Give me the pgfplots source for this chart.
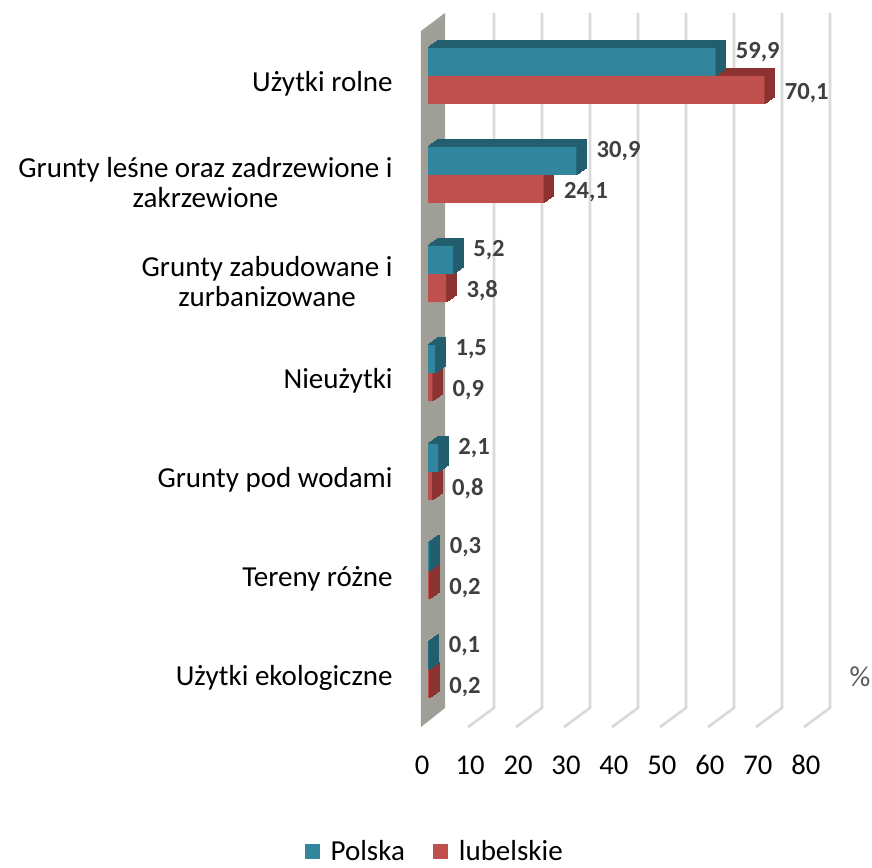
\documentclass[border=0pt]{standalone}
\usepackage{fontspec}
\setmainfont{Carlito}
\usepackage{pgfplots}
\pgfplotsset{compat=1.18}
\definecolor{pl}{RGB}{49,133,156}
\definecolor{pld}{RGB}{35,94,110}
\definecolor{lu}{RGB}{192,80,77}
\definecolor{lud}{RGB}{140,51,49}
\definecolor{wallc}{RGB}{160,159,151}
\definecolor{gridc}{RGB}{217,217,217}
\definecolor{lblc}{RGB}{64,64,64}
\pgfplotstableread{
y pl lu
0 59.9 70.1
1 30.9 24.1
2 5.2 3.8
3 1.5 0.9
4 2.1 0.8
5 0.3 0.2
6 0.1 0.2
}\landtab
\begin{document}
\begin{tikzpicture}
\begin{axis}[
 set layers,
 at={(0,0)}, anchor=south west,
 width=192pt, height=347.5pt, scale only axis,
 xmin=0, xmax=80, ymin=-0.505, ymax=6.515, y dir=reverse,
 axis line style={draw=none},
 major tick length=0pt,
 xtick={0,10,...,80},
 ytick={0,...,6},
 yticklabels={Użytki rolne,{Grunty leśne oraz zadrzewione i\\zakrzewione},{Grunty zabudowane i\\zurbanizowane},Nieużytki,Grunty pod wodami,Tereny różne,Użytki ekologiczne},
 yticklabel style={font=\fontsize{14.5}{15}\selectfont, align=center, inner sep=0pt, xshift=-17.5pt, yshift=-4pt},
 xticklabel style={font=\fontsize{14.3}{16}\selectfont, anchor=center, yshift=-22pt, xshift=-3pt},
 /pgf/number format/assume math mode=true,
 clip=false,
 xbar, bar width=14pt,
 nodes near coords={\pgfmathprintnumber[fixed,fixed zerofill,precision=1,use comma]{\pgfplotspointmeta}},
 nodes near coords align={horizontal},
 legend style={at={(axis description cs:0.02,-0.188)}, anchor=center, draw=none, fill=none,
   legend columns=2, font=\fontsize{14.5}{16}\selectfont,
   /tikz/every even column/.append style={column sep=12pt}},
 legend image code/.code={\fill[#1,draw=none] (0pt,-3.75pt) rectangle (7.5pt,3.75pt);},
]
\begin{pgfonlayer}{axis background}
\fill[wallc] ([shift={(-3.5pt,-3pt)}]axis cs:0,6.515) -- ([shift={(8.5pt,6.5pt)}]axis cs:0,6.515) -- ([shift={(8.5pt,6.5pt)}]axis cs:0,-0.505) -- ([shift={(-3.5pt,-2.5pt)}]axis cs:0,-0.505) -- cycle;
\pgfplotsinvokeforeach{10,20,...,80}{
\draw[gridc, line width=1.3pt] ([shift={(9pt,6.5pt)}]axis cs:#1,-0.505) -- ([shift={(9pt,6.5pt)}]axis cs:#1,6.515) -- ([shift={(-4pt,-3pt)}]axis cs:#1,6.515);
}
\end{pgfonlayer}
% depth faces (extrusion)
\pgfplotsinvokeforeach{0.5,1.0,1.5,2.0,2.5,3.0,3.5,4.0,4.5,5.0}{
\addplot[forget plot, fill=lud, draw=lud, line width=0.7pt, bar shift=-7pt, xshift=#1pt, yshift={0.7*#1pt}, nodes near coords={}] table[x=lu,y=y] {\landtab};
}
\pgfplotsinvokeforeach{0.5,1.0,1.5,2.0,2.5,3.0,3.5,4.0,4.5,5.0}{
\addplot[forget plot, fill=pld, draw=pld, line width=0.7pt, bar shift=7pt, xshift=#1pt, yshift={0.7*#1pt}, nodes near coords={}] table[x=pl,y=y] {\landtab};
}
% front faces
\addplot[fill=pl, draw=none, bar shift=7pt,
  every node near coord/.append style={anchor=west, inner sep=0pt, xshift=10pt, yshift=5pt, font=\fontsize{12.3}{14}\selectfont\bfseries, text=lblc}]
  table[x=pl,y=y] {\landtab};
\addlegendentry{\hspace{3.5pt}Polska}
\addplot[fill=lu, draw=none, bar shift=-7pt,
  every node near coord/.append style={anchor=west, inner sep=0pt, xshift=10pt, yshift=-1.5pt, font=\fontsize{12.3}{14}\selectfont\bfseries, text=lblc}]
  table[x=lu,y=y] {\landtab};
\addlegendentry{\hspace{3.5pt}lubelskie}
\node[font=\fontsize{14.5}{16}\selectfont, text=black!65] at (axis description cs:1.125,0.0633) {\%};
\end{axis}
\pgfresetboundingbox
\path (-214pt,-73pt) rectangle (222pt,360.5pt);
\end{tikzpicture}
\end{document}
